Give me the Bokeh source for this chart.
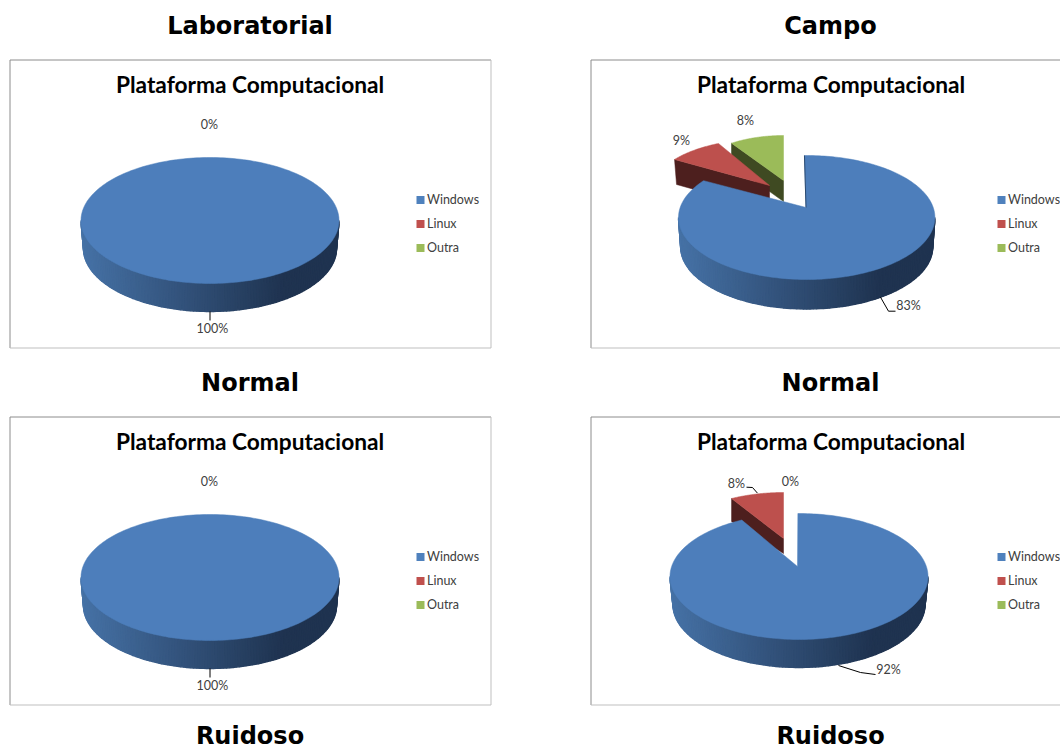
import numpy as np
from bokeh.plotting import figure
from bokeh.models import Range1d
from bokeh.core.properties import value
from bokeh.embed import file_html
from bokeh.resources import INLINE

# ---- data ----
categories = ["Windows", "Linux", "Outra"]
lab_normal = [100, 0, 0]
campo_normal = [83, 9, 8]
lab_ruidoso = [100, 0, 0]
campo_ruidoso = [92, 8, 0]
chart_title = "Plataforma Computacional"
group_titles = ["Laboratorial", "Campo", "Normal", "Normal", "Ruidoso", "Ruidoso"]

# ---- style ----
FACE = ["#4d7ebb", "#bd504d", "#9bbb59"]
LEG = ["#4f81bd", "#c0504d", "#9bbb59"]
SIDE = [None, "#4d1f1e", "#3f4a22"]
TXT = "#404040"

W, H = 1060, 749
p = figure(width=W, height=H, x_range=Range1d(0, W), y_range=Range1d(H, 0),
           output_backend="svg", toolbar_location=None, min_border=0,
           margin=(0, 0, 0, 0))
p.axis.visible = False
p.grid.visible = False
p.outline_line_color = None
p.background_fill_color = "white"
p.border_fill_color = "white"


def mix(t):
    t = min(max(t / 0.78, 0.0), 1.0)
    a, b = (70, 114, 166), (31, 51, 80)
    c = [int(round(a[i] + (b[i] - a[i]) * t)) for i in range(3)]
    return "#%02x%02x%02x" % tuple(c)


def arc(ex, ey, a, b, a0, a1, n=60):
    th = np.radians(np.linspace(a0, a1, n))
    return ex + a * np.sin(th), ey - b * np.cos(th)


def rim(cx, cy, rx, ry, d, rx2):
    xs, ys, cols = [], [], []
    edges = np.linspace(90, 270, 121)
    for t0, t1 in zip(edges[:-1], edges[1:]):
        r0, r1 = np.radians(t0), np.radians(t1)
        qx = [cx + rx * np.sin(r0), cx + rx * np.sin(r1), cx + rx2 * np.sin(r1), cx + rx2 * np.sin(r0)]
        qy = [cy - ry * np.cos(r0), cy - ry * np.cos(r1), cy + d - ry * np.cos(r1), cy + d - ry * np.cos(r0)]
        xs.append(qx)
        ys.append(qy)
        cols.append(mix((sum(qx) / 4 - (cx - rx)) / (2 * rx)))
    p.patches(xs, ys, fill_color=cols, line_color=cols, line_width=1.4)


def minor_slice(idx, v, apex, a, b, start, gain, d0, d1, lower_edge):
    """Exploded slice: arc goes counter-clockwise from start by the value's share."""
    if v <= 0:
        return
    sweep = v * 3.6 * gain
    ax, ay = arc(apex[0], apex[1], a, b, start, start - sweep)
    lx, ly = ax[-1], ay[-1]
    p.patch([lx, apex[0], apex[0], lx + lower_edge], [ly, apex[1], apex[1] + d1, ly + d0],
            fill_color=SIDE[idx], line_color=SIDE[idx], line_width=0.5)
    p.patch([apex[0], *ax], [apex[1], *ay], fill_color=FACE[idx], line_color=FACE[idx], line_width=0.5)


def major(v, cx, cy, rx, ry, d, rx2, apex=None, start=0.0, gain=1.0, edge=None):
    rim(cx, cy, rx, ry, d, rx2)
    if v >= 100:
        ax, ay = arc(cx, cy, rx, ry, 0, 360, 240)
        p.patch(ax, ay, fill_color=FACE[0], line_color=FACE[0], line_width=0.5)
    else:
        ax, ay = arc(cx, cy, rx, ry, start, start + v * 3.6 * gain, 240)
        p.patch([apex[0], *ax], [apex[1], *ay], fill_color=FACE[0], line_color=FACE[0], line_width=0.5)
        if edge:
            p.line([apex[0], ax[0]], [apex[1], ay[0]], line_color=edge, line_width=1)


def frame(x0, y0, x1, y1):
    p.line([x0, x0, x1], [y1, y0, y0], line_color="#8c8c8c", line_width=1)
    p.line([x0, x1, x1], [y1, y1, y0], line_color="#bfbfbf", line_width=1)


def txt(x, y, s, size, font="Lato", style="normal", color=TXT, align="center"):
    p.text([x], [y], text=[s], text_font=value(font), text_font_size=size, text_font_style=style,
           text_color=color, text_align=align, text_baseline="middle")


def panel_common(left, top):
    txt(left + 240, top + 24.5, chart_title, "22.7px", style="bold", color="#000000")
    swx = left + 406.5
    tx = left + 417.5
    for i, c in enumerate(categories):
        y = top + 140 + 24 * i
        p.quad(left=[swx], right=[swx + 8], top=[y - 4], bottom=[y + 4], fill_color=LEG[i], line_color=None)
        txt(tx - 0.5, y - 0.7, c, "12.5px", align="left")


def leader(xs, ys):
    p.line(xs, ys, line_color="#000000", line_width=1)


for s, x, y in zip(group_titles, [249.5, 830] * 3, [25, 25, 382, 382, 735, 735]):
    txt(x, y, s, "24px", font="DejaVu Sans", style="bold", color="#000000")

frame(9.5, 59.5, 490.5, 347.5)
major(lab_normal[0], 209.5, 220, 129, 63, 28, 126.5)
panel_common(9.5, 59.5)
leader([209.5, 209.5], [311, 320])
txt(209, 123.7, f"{lab_normal[1]}%", "12.5px")
txt(212, 328.3, f"{lab_normal[0]}%", "12.5px")

frame(590.5, 59.5, 1062, 347.5)
minor_slice(2, campo_normal[2], (783, 180), 93, 45, 0, 1.18, 21, 21, 0)
minor_slice(1, campo_normal[1], (769, 185), 114, 47, -26.6, 0.92, 25, 25, 2)
major(campo_normal[0], 806.2, 217, 128.2, 62, 29.5, 126, apex=(805.5, 207), start=-1, gain=1.029, edge="#2b4a70")
panel_common(590.5, 59.5)
leader([880, 888, 895], [296.7, 310.7, 310.7])
txt(745, 120.3, f"{campo_normal[2]}%", "12.5px")
txt(681, 140.3, f"{campo_normal[1]}%", "12.5px")
txt(908, 305.3, f"{campo_normal[0]}%", "12.5px")

frame(9.5, 416.5, 490.5, 704.5)
major(lab_ruidoso[0], 209.5, 577, 129, 63, 28, 126.5)
panel_common(9.5, 416.5)
leader([209.5, 209.5], [668, 677])
txt(209, 481.3, f"{lab_ruidoso[1]}%", "12.5px")
txt(212, 685.3, f"{lab_ruidoso[0]}%", "12.5px")

frame(590.5, 416.5, 1062, 704.5)
minor_slice(1, campo_ruidoso[1], (783, 538), 105, 46, 0, 1.03, 23, 15, 0)
major(campo_ruidoso[0], 798.5, 576, 129, 63, 28, 126, apex=(797, 566), start=-0.5, gain=1.009)
panel_common(590.5, 416.5)
leader([746, 752, 757], [486.7, 487, 492.7])
leader([838, 860, 875], [665, 672, 674])
txt(736, 483.3, f"{campo_ruidoso[1]}%", "12.5px")
txt(790, 481.3, f"{campo_ruidoso[2]}%", "12.5px")
txt(888, 669.3, f"{campo_ruidoso[0]}%", "12.5px")

open("out.html", "w").write(file_html(p, INLINE))
